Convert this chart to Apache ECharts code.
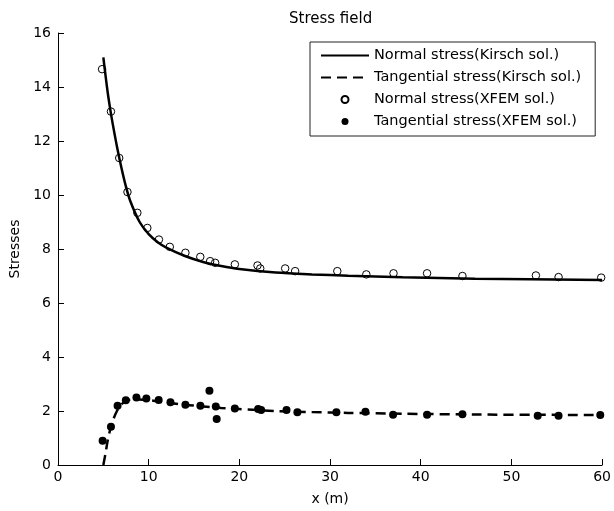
<!DOCTYPE html>
<html>
<head>
<meta charset="utf-8">
<script src="https://cdn.jsdelivr.net/npm/echarts@6/dist/echarts.min.js"></script>
<style>html,body{margin:0;padding:0;background:#fff;}#c{width:614px;height:511px;}</style>
</head>
<body>
<div id="c"></div>
<script>
// Kirsch analytical curves
var kirschX = [5, 5.25, 5.5, 5.75, 6, 6.5, 7, 7.5, 8, 9, 10, 11, 12, 14, 16, 18, 20, 24, 28, 32, 38, 46, 60];
var kirschNormal = [15.1, 14.4, 13.75, 13.2, 12.7, 11.8, 11.0, 10.3, 9.75, 9.0, 8.55, 8.25, 8.04, 7.74, 7.52, 7.37, 7.26, 7.13, 7.06, 7.01, 6.95, 6.9, 6.85];
var kirschTangential = [0.0, 0.45, 0.95, 1.3, 1.6, 2.0, 2.25, 2.37, 2.42, 2.43, 2.4, 2.36, 2.31, 2.23, 2.17, 2.11, 2.07, 2.0, 1.96, 1.93, 1.9, 1.87, 1.85];

// XFEM results
var xfemNormalX = [4.86, 5.84, 6.75, 7.66, 8.75, 9.85, 11.13, 12.33, 14.05, 15.69, 16.78, 17.33, 19.5, 22.0, 22.3, 25.05, 26.15, 30.8, 34.0, 37.0, 40.7, 44.6, 52.7, 55.2, 59.9];
var xfemNormalY = [14.66, 13.09, 11.37, 10.11, 9.34, 8.78, 8.35, 8.08, 7.86, 7.71, 7.55, 7.49, 7.43, 7.39, 7.28, 7.28, 7.18, 7.18, 7.06, 7.1, 7.1, 7.0, 7.02, 6.96, 6.94];
var xfemTangX = [4.92, 5.84, 6.57, 7.48, 8.65, 9.74, 11.1, 12.4, 14.05, 15.7, 16.7, 17.4, 17.5, 19.5, 22.07, 22.4, 25.2, 26.4, 30.7, 33.9, 36.95, 40.7, 44.6, 52.9, 55.2, 59.8];
var xfemTangY = [0.9, 1.42, 2.19, 2.40, 2.50, 2.46, 2.41, 2.32, 2.23, 2.19, 2.75, 2.17, 1.70, 2.09, 2.07, 2.04, 2.04, 1.95, 1.95, 1.97, 1.86, 1.86, 1.88, 1.82, 1.82, 1.85];

var seriesNames = ['Normal stress(Kirsch sol.)', 'Tangential stress(Kirsch sol.)', 'Normal stress(XFEM sol.)', 'Tangential stress(XFEM sol.)'];
var xTicks = {min: 0, max: 60, interval: 10};
var yTicks = {min: 0, max: 16, interval: 2};

function pairs(xs, ys) { return xs.map(function (x, i) { return [x, ys[i]]; }); }

var FONT = 'DejaVu Sans';
var chart = echarts.init(document.getElementById('c'), null, {renderer: 'canvas'});
chart.setOption({
  animation: false,
  backgroundColor: '#fff',
  textStyle: {fontFamily: FONT},
  title: {
    text: 'Stress field', left: 284, top: 7,
    textStyle: {fontFamily: FONT, fontSize: 15, fontWeight: 'normal', color: '#000'}
  },
  grid: {left: 58, right: 8, top: 33, bottom: 45, containLabel: false},
  legend: {
    orient: 'vertical', left: 310, top: 42,
    padding: [6, 14, 7, 10],
    itemWidth: 48, itemHeight: 7, itemGap: 7,
    borderColor: '#222', borderWidth: 1, backgroundColor: '#fff',
    textStyle: {fontFamily: FONT, fontSize: 14.5, color: '#000', lineHeight: 14},
    data: [
      {name: seriesNames[0], itemStyle: {opacity: 0}},
      {name: seriesNames[1], itemStyle: {opacity: 0}},
      {name: seriesNames[2]},
      {name: seriesNames[3]}
    ]
  },
  xAxis: {
    type: 'value', min: xTicks.min, max: xTicks.max, interval: xTicks.interval,
    name: 'x (m)', nameLocation: 'middle', nameGap: 27,
    nameTextStyle: {fontFamily: FONT, fontSize: 14, color: '#000'},
    axisLine: {show: true, lineStyle: {color: '#000', width: 1}},
    axisTick: {show: true, inside: true, length: 6, lineStyle: {color: '#000'}},
    axisLabel: {fontFamily: FONT, fontSize: 14, color: '#000', margin: 5},
    splitLine: {show: false}
  },
  yAxis: {
    type: 'value', min: yTicks.min, max: yTicks.max, interval: yTicks.interval,
    name: 'Stresses', nameLocation: 'middle', nameGap: 31,
    nameTextStyle: {fontFamily: FONT, fontSize: 14, color: '#000'},
    axisLine: {show: true, lineStyle: {color: '#000', width: 1}},
    axisTick: {show: true, inside: true, length: 6, lineStyle: {color: '#000'}},
    axisLabel: {fontFamily: FONT, fontSize: 14, color: '#000', margin: 7},
    splitLine: {show: false}
  },
  series: [
    {
      name: seriesNames[0], type: 'line', smooth: 0.3, symbol: 'none',
      data: pairs(kirschX, kirschNormal),
      lineStyle: {color: '#000', width: 2.5, type: 'solid'},
      itemStyle: {color: '#000'}, z: 2
    },
    {
      name: seriesNames[1], type: 'line', smooth: 0.3, symbol: 'none',
      data: pairs(kirschX, kirschTangential),
      lineStyle: {color: '#000', width: 2.5, type: [10, 6]},
      itemStyle: {color: '#000'}, z: 2
    },
    {
      name: seriesNames[2], type: 'scatter', symbol: 'circle', symbolSize: 7.5,
      data: pairs(xfemNormalX, xfemNormalY),
      itemStyle: {color: 'rgba(0,0,0,0)', borderColor: '#000', borderWidth: 1, opacity: 1}, z: 3
    },
    {
      name: seriesNames[3], type: 'scatter', symbol: 'circle', symbolSize: 8,
      data: pairs(xfemTangX, xfemTangY),
      itemStyle: {color: '#000', opacity: 1}, z: 3
    }
  ]
});
</script>
</body>
</html>
